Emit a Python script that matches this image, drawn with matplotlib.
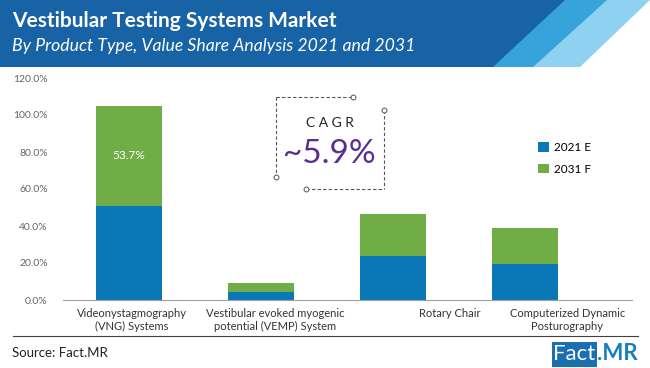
import matplotlib

matplotlib.use("Agg")
import matplotlib.pyplot as plt
from matplotlib.patches import Polygon, Rectangle

categories = [
    "Videonystagmography\n(VNG) Systems",
    "Vestibular evoked myogenic\npotential (VEMP) System",
    "Rotary Chair",
    "Computerized Dynamic\nPosturography",
]
share_2021 = [51.0, 4.5, 24.0, 19.5]
share_2031 = [53.7, 4.5, 22.5, 19.4]
series_names = ["2021 E", "2031 F"]
y_ticks = [0, 20, 40, 60, 80, 100, 120]
label_offsets = [0.02, 0.11, 0.43, 0.32]

BLUE = "#0a78b6"
GREEN = "#70ad47"
HEADER = "#1763a6"

plt.rcParams["font.family"] = ["Lato", "DejaVu Sans"]

fig = plt.figure(figsize=(6.5, 3.68), dpi=100)

# header banner
bg = fig.add_axes([0, 0, 1, 1], zorder=-1)
bg.set_xlim(0, 650)
bg.set_ylim(368, 0)
bg.axis("off")
bg.add_patch(Rectangle((0, 0), 650, 67, color=HEADER, lw=0))
bg.add_patch(Polygon([(565, 0), (650, 0), (650, 67), (493, 67)], color="#36a3da", lw=0))
bg.add_patch(Polygon([(607, 0), (650, 0), (650, 67), (533, 67)], color="#8ed1f0", lw=0))
bg.add_patch(Polygon([(650, 0), (650, 67), (580, 67)], color="white", lw=0))
bg.text(12, 21, "Vestibular Testing Systems Market", color="white", fontsize=15,
        fontweight="bold", va="center", ha="left")
bg.text(12, 46, "By Product Type, Value Share Analysis 2021 and 2031", color="white",
        fontsize=12.7, style="italic", va="center", ha="left")

# footer
bg.plot([13, 638], [336, 336], color="#404040", lw=0.8)
bg.text(12, 353, "Source: Fact.MR", fontsize=9.5, color="#222222", va="center", ha="left")
bg.add_patch(Rectangle((552, 342), 45, 25, color="#1a6fb0", lw=0))
bg.text(574.5, 354, "Fact", fontsize=16, color="white", va="center", ha="center")
bg.text(597, 354, ".MR", fontsize=16, color="#1a7fc0", fontweight="bold", va="center", ha="left")

# CAGR callout
dash = dict(color="#555555", lw=0.8, ls=(0, (3, 2)))
bg.plot([276, 276], [97, 177], **dash)
bg.plot([276, 353], [97, 97], **dash)
bg.plot([384, 384], [110, 189], **dash)
bg.plot([306, 384], [189, 189], **dash)
for cx, cy in [(276, 177), (353, 97), (384, 110), (306, 189)]:
    bg.plot(cx, cy, "o", ms=3.5, mfc="white", mec="#555555", mew=0.7)
bg.text(330, 123, "C A G R", fontsize=10, color="#222222", ha="center", va="center")
bg.text(329, 154, "~5.9%", fontsize=24, color="#5b2d91", ha="center", va="center")

ax = fig.add_axes([63 / 650, 68 / 368, 569 / 650, 222 / 368])
x = list(range(len(categories)))
ax.bar(x, share_2021, width=0.5, color=BLUE, label=series_names[0], zorder=2)
ax.bar(x, share_2031, width=0.5, bottom=share_2021, color=GREEN, label=series_names[1], zorder=2)
ax.text(x[0], share_2021[0] + share_2031[0] / 2, f"{share_2031[0]:.1f}%", color="white",
        fontsize=8.5, ha="center", va="center")

ax.set_xlim(-0.5, 3.81)
ax.set_ylim(0, 120)
ax.set_yticks(y_ticks)
ax.set_yticklabels([f"{v:.1f}%" for v in y_ticks])
ax.set_xticks([i + off for i, off in zip(x, label_offsets)])
ax.set_xticklabels(categories)
ax.tick_params(axis="both", length=0, labelsize=8, colors="#333333")
ax.tick_params(axis="y", labelsize=7.5, labelcolor="#666666", pad=11)
ax.tick_params(axis="x", pad=6)
for side in ["left", "right", "top"]:
    ax.spines[side].set_visible(False)
ax.spines["bottom"].set_color("#a0a0a0")
ax.patch.set_alpha(0)

ax.legend(loc="upper left", bbox_to_anchor=(0.816, 0.76), frameon=False, fontsize=8.5,
          handlelength=0.9, handleheight=0.9, labelspacing=0.9, handletextpad=0.5)

fig.savefig("out.png", dpi=100)
